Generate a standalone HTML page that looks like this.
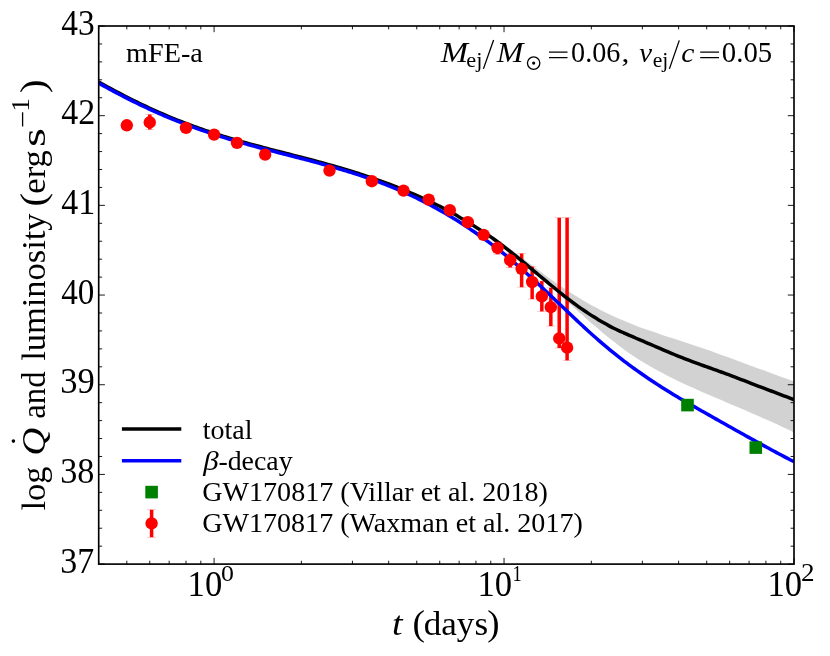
<!DOCTYPE html>
<html><head><meta charset="utf-8"><title>plot</title>
<style>html,body{margin:0;padding:0;background:#fff}svg{display:block;will-change:transform}text{font-family:"Liberation Serif",serif;fill:#000}</style></head><body>
<svg width="830" height="656" viewBox="0 0 830 656">
<rect width="830" height="656" fill="#fff"/>
<defs><clipPath id="ax"><rect x="98.70" y="26.00" width="695.30" height="538.10"/></clipPath></defs>
<g clip-path="url(#ax)">
<path d="M480.00,227.67 C481.00,228.34 484.00,230.31 486.00,231.66 C488.00,233.02 490.00,234.40 492.00,235.80 C494.00,237.19 496.00,238.61 498.00,240.05 C500.00,241.48 502.00,242.93 504.00,244.39 C506.00,245.86 508.00,247.33 510.00,248.82 C512.00,250.30 514.00,251.80 516.00,253.29 C518.00,254.79 520.00,256.29 522.00,257.80 C524.00,259.30 526.00,260.81 528.00,262.31 C530.00,263.81 532.00,265.32 534.00,266.81 C536.00,268.30 538.00,269.80 540.00,271.27 C542.00,272.75 544.00,274.23 546.00,275.68 C548.00,277.14 550.00,278.58 552.00,280.01 C554.00,281.43 556.00,282.85 558.00,284.23 C560.00,285.62 562.00,286.99 564.00,288.33 C566.00,289.68 568.00,291.00 570.00,292.29 C572.00,293.58 574.00,294.85 576.00,296.08 C578.00,297.32 580.00,298.53 582.00,299.71 C584.00,300.89 586.00,302.05 588.00,303.18 C590.00,304.31 592.00,305.41 594.00,306.49 C596.00,307.57 598.00,308.62 600.00,309.65 C602.00,310.68 604.00,311.68 606.00,312.66 C608.00,313.64 610.00,314.60 612.00,315.53 C614.00,316.46 616.00,317.37 618.00,318.26 C620.00,319.14 622.00,320.00 624.00,320.85 C626.00,321.69 628.00,322.50 630.00,323.30 C632.00,324.11 634.00,324.88 636.00,325.65 C638.00,326.41 640.00,327.15 642.00,327.89 C644.00,328.62 646.00,329.33 648.00,330.04 C650.00,330.74 652.00,331.43 654.00,332.12 C656.00,332.80 658.00,333.48 660.00,334.14 C662.00,334.81 664.00,335.47 666.00,336.13 C668.00,336.78 670.00,337.43 672.00,338.08 C674.00,338.74 676.00,339.38 678.00,340.03 C680.00,340.68 682.00,341.33 684.00,341.99 C686.00,342.64 688.00,343.29 690.00,343.96 C692.00,344.62 694.00,345.29 696.00,345.97 C698.00,346.64 700.00,347.33 702.00,348.02 C704.00,348.71 706.00,349.41 708.00,350.11 C710.00,350.81 712.00,351.52 714.00,352.23 C716.00,352.94 718.00,353.66 720.00,354.38 C722.00,355.10 724.00,355.83 726.00,356.55 C728.00,357.28 730.00,358.01 732.00,358.75 C734.00,359.48 736.00,360.22 738.00,360.96 C740.00,361.70 742.00,362.44 744.00,363.18 C746.00,363.92 748.00,364.66 750.00,365.40 C752.00,366.14 754.00,366.89 756.00,367.63 C758.00,368.37 760.00,369.11 762.00,369.85 C764.00,370.59 766.00,371.33 768.00,372.06 C770.00,372.80 772.00,373.53 774.00,374.26 C776.00,374.99 778.00,375.72 780.00,376.44 C782.00,377.17 784.00,377.89 786.00,378.60 C788.00,379.32 790.67,380.27 792.00,380.74 C793.33,381.21 793.67,381.33 794.00,381.44 L794.00,432.34 C793.67,432.18 793.33,432.02 792.00,431.38 C790.67,430.75 788.00,429.47 786.00,428.53 C784.00,427.59 782.00,426.66 780.00,425.74 C778.00,424.81 776.00,423.90 774.00,422.99 C772.00,422.08 770.00,421.19 768.00,420.29 C766.00,419.40 764.00,418.51 762.00,417.63 C760.00,416.75 758.00,415.88 756.00,415.01 C754.00,414.13 752.00,413.27 750.00,412.41 C748.00,411.54 746.00,410.68 744.00,409.83 C742.00,408.97 740.00,408.12 738.00,407.26 C736.00,406.41 734.00,405.56 732.00,404.71 C730.00,403.86 728.00,403.01 726.00,402.16 C724.00,401.31 722.00,400.46 720.00,399.61 C718.00,398.76 716.00,397.91 714.00,397.05 C712.00,396.20 710.00,395.34 708.00,394.48 C706.00,393.62 704.00,392.76 702.00,391.89 C700.00,391.02 698.00,390.14 696.00,389.26 C694.00,388.37 692.00,387.48 690.00,386.57 C688.00,385.67 686.00,384.75 684.00,383.82 C682.00,382.89 680.00,381.95 678.00,380.99 C676.00,380.03 674.00,379.06 672.00,378.07 C670.00,377.07 668.00,376.06 666.00,375.03 C664.00,374.00 662.00,372.94 660.00,371.87 C658.00,370.79 656.00,369.69 654.00,368.56 C652.00,367.44 650.00,366.29 648.00,365.10 C646.00,363.92 644.00,362.72 642.00,361.48 C640.00,360.23 638.00,358.97 636.00,357.66 C634.00,356.36 632.00,355.02 630.00,353.65 C628.00,352.27 626.00,350.87 624.00,349.42 C622.00,347.97 620.00,346.49 618.00,344.97 C616.00,343.45 614.00,341.90 612.00,340.32 C610.00,338.73 608.00,337.12 606.00,335.48 C604.00,333.84 602.00,332.18 600.00,330.49 C598.00,328.81 596.00,327.10 594.00,325.37 C592.00,323.65 590.00,321.90 588.00,320.14 C586.00,318.39 584.00,316.61 582.00,314.83 C580.00,313.05 578.00,311.26 576.00,309.46 C574.00,307.67 572.00,305.86 570.00,304.06 C568.00,302.25 566.00,300.44 564.00,298.64 C562.00,296.83 560.00,295.03 558.00,293.23 C556.00,291.43 554.00,289.63 552.00,287.84 C550.00,286.04 548.00,284.26 546.00,282.48 C544.00,280.71 542.00,278.94 540.00,277.18 C538.00,275.42 536.00,273.68 534.00,271.95 C532.00,270.22 530.00,268.50 528.00,266.80 C526.00,265.10 524.00,263.42 522.00,261.75 C520.00,260.09 518.00,258.44 516.00,256.82 C514.00,255.20 512.00,253.60 510.00,252.02 C508.00,250.45 506.00,248.90 504.00,247.37 C502.00,245.85 500.00,244.35 498.00,242.89 C496.00,241.42 494.00,239.99 492.00,238.58 C490.00,237.18 488.00,235.81 486.00,234.47 C484.00,233.14 481.00,231.23 480.00,230.58 Z" fill="#d2d2d2"/>
<line x1="149.76" x2="149.76" y1="114.40" y2="129.40" stroke="#f00" stroke-width="3.50"/>
<line x1="497.58" x2="497.58" y1="241.40" y2="254.30" stroke="#f00" stroke-width="3.50"/>
<line x1="510.19" x2="510.19" y1="253.20" y2="267.50" stroke="#f00" stroke-width="3.50"/>
<line x1="521.64" x2="521.64" y1="253.60" y2="287.20" stroke="#f00" stroke-width="3.50"/>
<line x1="532.14" x2="532.14" y1="266.70" y2="299.10" stroke="#f00" stroke-width="3.50"/>
<line x1="541.83" x2="541.83" y1="281.10" y2="311.40" stroke="#f00" stroke-width="3.50"/>
<line x1="550.83" x2="550.83" y1="287.80" y2="326.10" stroke="#f00" stroke-width="3.50"/>
<line x1="559.23" x2="559.23" y1="217.70" y2="348.00" stroke="#f00" stroke-width="3.50"/>
<line x1="567.10" x2="567.10" y1="217.70" y2="360.40" stroke="#f00" stroke-width="3.50"/>
<path d="M98.70,82.00 C99.53,82.47 102.03,83.87 103.70,84.79 C105.37,85.71 107.03,86.63 108.70,87.54 C110.37,88.45 112.03,89.35 113.70,90.24 C115.37,91.13 117.03,92.02 118.70,92.90 C120.37,93.77 122.03,94.64 123.70,95.50 C125.37,96.36 127.03,97.22 128.70,98.06 C130.37,98.90 132.03,99.74 133.70,100.56 C135.37,101.39 137.03,102.20 138.70,103.01 C140.37,103.82 142.03,104.62 143.70,105.41 C145.37,106.19 147.03,106.97 148.70,107.74 C150.37,108.51 152.03,109.28 153.70,110.03 C155.37,110.78 157.03,111.52 158.70,112.25 C160.37,112.99 162.03,113.71 163.70,114.42 C165.37,115.14 167.03,115.84 168.70,116.54 C170.37,117.23 172.03,117.92 173.70,118.59 C175.37,119.27 177.03,119.94 178.70,120.60 C180.37,121.26 182.03,121.90 183.70,122.55 C185.37,123.19 187.03,123.82 188.70,124.44 C190.37,125.06 192.03,125.68 193.70,126.28 C195.37,126.89 197.03,127.49 198.70,128.08 C200.37,128.66 202.03,129.24 203.70,129.82 C205.37,130.39 207.03,130.95 208.70,131.51 C210.37,132.07 212.03,132.62 213.70,133.16 C215.37,133.70 217.03,134.23 218.70,134.76 C220.37,135.29 222.03,135.80 223.70,136.32 C225.37,136.83 227.03,137.34 228.70,137.84 C230.37,138.34 232.03,138.83 233.70,139.32 C235.37,139.81 237.03,140.29 238.70,140.77 C240.37,141.25 242.03,141.72 243.70,142.19 C245.37,142.66 247.03,143.12 248.70,143.58 C250.37,144.04 252.03,144.50 253.70,144.95 C255.37,145.40 257.03,145.85 258.70,146.29 C260.37,146.74 262.03,147.18 263.70,147.62 C265.37,148.06 267.03,148.49 268.70,148.93 C270.37,149.36 272.03,149.79 273.70,150.22 C275.37,150.65 277.03,151.08 278.70,151.51 C280.37,151.94 282.03,152.37 283.70,152.79 C285.37,153.22 287.03,153.64 288.70,154.07 C290.37,154.50 292.03,154.92 293.70,155.35 C295.37,155.77 297.03,156.20 298.70,156.63 C300.37,157.06 302.03,157.49 303.70,157.92 C305.37,158.35 307.03,158.78 308.70,159.22 C310.37,159.65 312.03,160.09 313.70,160.53 C315.37,160.97 317.03,161.42 318.70,161.86 C320.37,162.31 322.03,162.76 323.70,163.21 C325.37,163.67 327.03,164.13 328.70,164.59 C330.37,165.05 332.03,165.52 333.70,165.99 C335.37,166.47 337.03,166.94 338.70,167.43 C340.37,167.91 342.03,168.40 343.70,168.90 C345.37,169.39 347.03,169.89 348.70,170.40 C350.37,170.90 352.03,171.41 353.70,171.93 C355.37,172.45 357.03,172.98 358.70,173.51 C360.37,174.04 362.03,174.58 363.70,175.13 C365.37,175.68 367.03,176.24 368.70,176.80 C370.37,177.37 372.03,177.94 373.70,178.52 C375.37,179.10 377.03,179.69 378.70,180.29 C380.37,180.89 382.03,181.50 383.70,182.12 C385.37,182.74 387.03,183.37 388.70,184.00 C390.37,184.63 392.03,185.27 393.70,185.91 C395.37,186.56 397.03,187.21 398.70,187.87 C400.37,188.53 402.03,189.20 403.70,189.88 C405.37,190.57 407.03,191.26 408.70,191.96 C410.37,192.67 412.03,193.39 413.70,194.11 C415.37,194.83 417.03,195.56 418.70,196.31 C420.37,197.05 422.03,197.80 423.70,198.57 C425.37,199.33 427.03,200.11 428.70,200.90 C430.37,201.69 432.03,202.49 433.70,203.31 C435.37,204.12 437.03,204.95 438.70,205.80 C440.37,206.65 442.03,207.51 443.70,208.38 C445.37,209.26 447.03,210.14 448.70,211.05 C450.37,211.95 452.03,212.87 453.70,213.81 C455.37,214.74 457.03,215.69 458.70,216.66 C460.37,217.62 462.03,218.60 463.70,219.60 C465.37,220.59 467.03,221.61 468.70,222.63 C470.37,223.66 472.03,224.70 473.70,225.75 C475.37,226.80 477.03,227.87 478.70,228.94 C480.37,230.01 482.03,231.09 483.70,232.19 C485.37,233.29 487.03,234.40 488.70,235.54 C490.37,236.68 492.03,237.84 493.70,239.02 C495.37,240.21 497.03,241.43 498.70,242.67 C500.37,243.91 502.03,245.18 503.70,246.47 C505.37,247.75 507.03,249.06 508.70,250.38 C510.37,251.69 512.03,253.01 513.70,254.35 C515.37,255.68 517.03,257.01 518.70,258.36 C520.37,259.71 522.03,261.07 523.70,262.45 C525.37,263.82 527.03,265.21 528.70,266.60 C530.37,268.00 532.03,269.41 533.70,270.81 C535.37,272.21 537.03,273.63 538.70,275.03 C540.37,276.43 542.03,277.83 543.70,279.21 C545.37,280.60 547.03,281.97 548.70,283.34 C550.37,284.71 552.03,286.07 553.70,287.43 C555.37,288.79 557.03,290.16 558.70,291.50 C560.37,292.85 562.03,294.19 563.70,295.52 C565.37,296.84 567.03,298.15 568.70,299.44 C570.37,300.72 572.03,301.99 573.70,303.21 C575.37,304.44 577.03,305.63 578.70,306.81 C580.37,307.99 582.03,309.15 583.70,310.29 C585.37,311.42 587.03,312.53 588.70,313.62 C590.37,314.71 592.03,315.78 593.70,316.83 C595.37,317.88 597.03,318.90 598.70,319.90 C600.37,320.90 602.03,321.88 603.70,322.83 C605.37,323.78 607.03,324.72 608.70,325.63 C610.37,326.53 612.03,327.41 613.70,328.24 C615.37,329.07 617.03,329.84 618.70,330.60 C620.37,331.37 622.03,332.09 623.70,332.83 C625.37,333.57 627.03,334.32 628.70,335.05 C630.37,335.79 632.03,336.51 633.70,337.23 C635.37,337.95 637.03,338.66 638.70,339.37 C640.37,340.07 642.03,340.77 643.70,341.47 C645.37,342.18 647.03,342.90 648.70,343.61 C650.37,344.32 652.03,345.03 653.70,345.74 C655.37,346.45 657.03,347.16 658.70,347.87 C660.37,348.58 662.03,349.30 663.70,350.02 C665.37,350.73 667.03,351.46 668.70,352.16 C670.37,352.87 672.03,353.56 673.70,354.25 C675.37,354.93 677.03,355.61 678.70,356.28 C680.37,356.95 682.03,357.62 683.70,358.27 C685.37,358.93 687.03,359.58 688.70,360.22 C690.37,360.85 692.03,361.49 693.70,362.11 C695.37,362.73 697.03,363.33 698.70,363.94 C700.37,364.54 702.03,365.13 703.70,365.73 C705.37,366.32 707.03,366.91 708.70,367.50 C710.37,368.10 712.03,368.69 713.70,369.29 C715.37,369.89 717.03,370.50 718.70,371.10 C720.37,371.70 722.03,372.30 723.70,372.90 C725.37,373.51 727.03,374.12 728.70,374.73 C730.37,375.35 732.03,375.98 733.70,376.62 C735.37,377.25 737.03,377.90 738.70,378.54 C740.37,379.19 742.03,379.84 743.70,380.49 C745.37,381.14 747.03,381.79 748.70,382.44 C750.37,383.09 752.03,383.73 753.70,384.37 C755.37,385.01 757.03,385.65 758.70,386.28 C760.37,386.91 762.03,387.54 763.70,388.16 C765.37,388.79 767.03,389.42 768.70,390.05 C770.37,390.68 772.03,391.31 773.70,391.94 C775.37,392.58 777.03,393.22 778.70,393.86 C780.37,394.49 782.03,395.13 783.70,395.77 C785.37,396.41 787.03,397.05 788.70,397.69 C790.37,398.33 792.82,399.27 793.70,399.61 C794.58,399.95 793.95,399.71 794.00,399.73" fill="none" stroke="#000" stroke-width="3.50"/>
<path d="M98.70,83.10 C99.53,83.57 102.03,84.97 103.70,85.89 C105.37,86.81 107.03,87.73 108.70,88.64 C110.37,89.55 112.03,90.45 113.70,91.34 C115.37,92.23 117.03,93.12 118.70,94.00 C120.37,94.87 122.03,95.74 123.70,96.60 C125.37,97.46 127.03,98.32 128.70,99.16 C130.37,100.00 132.03,100.84 133.70,101.66 C135.37,102.49 137.03,103.30 138.70,104.11 C140.37,104.92 142.03,105.72 143.70,106.51 C145.37,107.29 147.03,108.07 148.70,108.84 C150.37,109.61 152.03,110.38 153.70,111.13 C155.37,111.88 157.03,112.62 158.70,113.35 C160.37,114.09 162.03,114.81 163.70,115.52 C165.37,116.24 167.03,116.94 168.70,117.64 C170.37,118.33 172.03,119.02 173.70,119.69 C175.37,120.37 177.03,121.04 178.70,121.70 C180.37,122.36 182.03,123.00 183.70,123.65 C185.37,124.29 187.03,124.92 188.70,125.54 C190.37,126.16 192.03,126.78 193.70,127.38 C195.37,127.99 197.03,128.59 198.70,129.18 C200.37,129.76 202.03,130.34 203.70,130.92 C205.37,131.49 207.03,132.06 208.70,132.61 C210.37,133.17 212.03,133.72 213.70,134.26 C215.37,134.81 217.03,135.34 218.70,135.87 C220.37,136.40 222.03,136.92 223.70,137.44 C225.37,137.95 227.03,138.46 228.70,138.96 C230.37,139.46 232.03,139.96 233.70,140.45 C235.37,140.94 237.03,141.43 238.70,141.91 C240.37,142.39 242.03,142.86 243.70,143.33 C245.37,143.80 247.03,144.27 248.70,144.73 C250.37,145.19 252.03,145.65 253.70,146.10 C255.37,146.55 257.03,147.00 258.70,147.45 C260.37,147.90 262.03,148.34 263.70,148.78 C265.37,149.22 267.03,149.66 268.70,150.09 C270.37,150.53 272.03,150.96 273.70,151.40 C275.37,151.83 277.03,152.26 278.70,152.69 C280.37,153.12 282.03,153.54 283.70,153.97 C285.37,154.40 287.03,154.83 288.70,155.26 C290.37,155.68 292.03,156.11 293.70,156.54 C295.37,156.97 297.03,157.40 298.70,157.83 C300.37,158.26 302.03,158.69 303.70,159.12 C305.37,159.56 307.03,159.99 308.70,160.43 C310.37,160.87 312.03,161.31 313.70,161.76 C315.37,162.20 317.03,162.65 318.70,163.10 C320.37,163.55 322.03,164.00 323.70,164.46 C325.37,164.92 327.03,165.38 328.70,165.85 C330.37,166.32 332.03,166.79 333.70,167.27 C335.37,167.75 337.03,168.23 338.70,168.72 C340.37,169.21 342.03,169.71 343.70,170.21 C345.37,170.72 347.03,171.22 348.70,171.74 C350.37,172.26 352.03,172.78 353.70,173.31 C355.37,173.85 357.03,174.39 358.70,174.93 C360.37,175.48 362.03,176.04 363.70,176.60 C365.37,177.17 367.03,177.74 368.70,178.33 C370.37,178.91 372.03,179.50 373.70,180.10 C375.37,180.71 377.03,181.32 378.70,181.94 C380.37,182.57 382.03,183.20 383.70,183.85 C385.37,184.49 387.03,185.15 388.70,185.81 C390.37,186.48 392.03,187.16 393.70,187.85 C395.37,188.54 397.03,189.24 398.70,189.96 C400.37,190.67 402.03,191.40 403.70,192.14 C405.37,192.88 407.03,193.63 408.70,194.39 C410.37,195.16 412.03,195.94 413.70,196.73 C415.37,197.52 417.03,198.33 418.70,199.15 C420.37,199.97 422.03,200.80 423.70,201.65 C425.37,202.49 427.03,203.35 428.70,204.23 C430.37,205.10 432.03,205.99 433.70,206.90 C435.37,207.80 437.03,208.72 438.70,209.66 C440.37,210.59 442.03,211.54 443.70,212.50 C445.37,213.47 447.03,214.45 448.70,215.44 C450.37,216.44 452.03,217.45 453.70,218.47 C455.37,219.50 457.03,220.54 458.70,221.59 C460.37,222.65 462.03,223.72 463.70,224.81 C465.37,225.90 467.03,227.00 468.70,228.12 C470.37,229.23 472.03,230.37 473.70,231.51 C475.37,232.65 477.03,233.80 478.70,234.96 C480.37,236.12 482.03,237.29 483.70,238.48 C485.37,239.67 487.03,240.87 488.70,242.10 C490.37,243.32 492.03,244.56 493.70,245.82 C495.37,247.09 497.03,248.37 498.70,249.68 C500.37,250.99 502.03,252.33 503.70,253.68 C505.37,255.04 507.03,256.42 508.70,257.81 C510.37,259.21 512.03,260.62 513.70,262.05 C515.37,263.47 517.03,264.92 518.70,266.37 C520.37,267.83 522.03,269.29 523.70,270.78 C525.37,272.26 527.03,273.75 528.70,275.25 C530.37,276.76 532.03,278.28 533.70,279.80 C535.37,281.33 537.03,282.87 538.70,284.41 C540.37,285.96 542.03,287.52 543.70,289.08 C545.37,290.64 547.03,292.21 548.70,293.79 C550.37,295.36 552.03,296.95 553.70,298.53 C555.37,300.11 557.03,301.70 558.70,303.29 C560.37,304.88 562.03,306.47 563.70,308.05 C565.37,309.64 567.03,311.23 568.70,312.81 C570.37,314.39 572.03,315.97 573.70,317.54 C575.37,319.11 577.03,320.67 578.70,322.23 C580.37,323.78 582.03,325.33 583.70,326.87 C585.37,328.41 587.03,329.94 588.70,331.45 C590.37,332.96 592.03,334.46 593.70,335.95 C595.37,337.43 597.03,338.91 598.70,340.36 C600.37,341.81 602.03,343.25 603.70,344.66 C605.37,346.08 607.03,347.47 608.70,348.85 C610.37,350.23 612.03,351.59 613.70,352.93 C615.37,354.27 617.03,355.60 618.70,356.90 C620.37,358.21 622.03,359.50 623.70,360.77 C625.37,362.05 627.03,363.30 628.70,364.55 C630.37,365.79 632.03,367.01 633.70,368.22 C635.37,369.43 637.03,370.62 638.70,371.80 C640.37,372.98 642.03,374.15 643.70,375.30 C645.37,376.45 647.03,377.59 648.70,378.71 C650.37,379.83 652.03,380.94 653.70,382.04 C655.37,383.14 657.03,384.22 658.70,385.29 C660.37,386.37 662.03,387.42 663.70,388.47 C665.37,389.52 667.03,390.56 668.70,391.59 C670.37,392.61 672.03,393.63 673.70,394.63 C675.37,395.64 677.03,396.64 678.70,397.63 C680.37,398.62 682.03,399.60 683.70,400.58 C685.37,401.56 687.03,402.52 688.70,403.49 C690.37,404.45 692.03,405.41 693.70,406.37 C695.37,407.32 697.03,408.27 698.70,409.22 C700.37,410.17 702.03,411.11 703.70,412.05 C705.37,413.00 707.03,413.94 708.70,414.88 C710.37,415.82 712.03,416.77 713.70,417.71 C715.37,418.65 717.03,419.59 718.70,420.53 C720.37,421.47 722.03,422.41 723.70,423.35 C725.37,424.29 727.03,425.23 728.70,426.17 C730.37,427.11 732.03,428.04 733.70,428.98 C735.37,429.92 737.03,430.85 738.70,431.78 C740.37,432.72 742.03,433.65 743.70,434.58 C745.37,435.50 747.03,436.43 748.70,437.36 C750.37,438.28 752.03,439.20 753.70,440.12 C755.37,441.04 757.03,441.96 758.70,442.88 C760.37,443.79 762.03,444.70 763.70,445.61 C765.37,446.52 767.03,447.43 768.70,448.33 C770.37,449.23 772.03,450.13 773.70,451.03 C775.37,451.92 777.03,452.81 778.70,453.70 C780.37,454.59 782.03,455.47 783.70,456.35 C785.37,457.23 787.03,458.11 788.70,458.98 C790.37,459.85 792.82,461.11 793.70,461.57 C794.58,462.03 793.95,461.70 794.00,461.73" fill="none" stroke="#00f" stroke-width="3.50"/>
<rect x="681.20" y="398.80" width="12.60" height="12.60" fill="#008000"/>
<rect x="749.50" y="441.30" width="12.60" height="12.60" fill="#008000"/>
<circle cx="126.80" cy="125.30" r="6.20" fill="#f00"/>
<circle cx="149.76" cy="122.30" r="6.20" fill="#f00"/>
<circle cx="185.99" cy="127.90" r="6.20" fill="#f00"/>
<circle cx="214.09" cy="134.60" r="6.20" fill="#f00"/>
<circle cx="237.04" cy="142.90" r="6.20" fill="#f00"/>
<circle cx="265.14" cy="154.60" r="6.20" fill="#f00"/>
<circle cx="329.47" cy="170.60" r="6.20" fill="#f00"/>
<circle cx="371.84" cy="181.20" r="6.20" fill="#f00"/>
<circle cx="403.49" cy="190.60" r="6.20" fill="#f00"/>
<circle cx="428.76" cy="199.60" r="6.20" fill="#f00"/>
<circle cx="449.80" cy="210.20" r="6.20" fill="#f00"/>
<circle cx="467.82" cy="222.20" r="6.20" fill="#f00"/>
<circle cx="483.58" cy="234.90" r="6.20" fill="#f00"/>
<circle cx="497.58" cy="247.90" r="6.20" fill="#f00"/>
<circle cx="510.19" cy="260.20" r="6.20" fill="#f00"/>
<circle cx="521.64" cy="268.80" r="6.20" fill="#f00"/>
<circle cx="532.14" cy="282.00" r="6.20" fill="#f00"/>
<circle cx="541.83" cy="296.40" r="6.20" fill="#f00"/>
<circle cx="550.83" cy="307.20" r="6.20" fill="#f00"/>
<circle cx="559.23" cy="338.40" r="6.20" fill="#f00"/>
<circle cx="567.10" cy="347.70" r="6.20" fill="#f00"/>
<line x1="145.46" x2="154.06" y1="114.40" y2="114.40" stroke="#f00" stroke-width="0.6" opacity="0.4"/>
<line x1="145.46" x2="154.06" y1="129.40" y2="129.40" stroke="#f00" stroke-width="0.6" opacity="0.4"/>
<line x1="493.28" x2="501.88" y1="241.40" y2="241.40" stroke="#f00" stroke-width="0.6" opacity="0.4"/>
<line x1="493.28" x2="501.88" y1="254.30" y2="254.30" stroke="#f00" stroke-width="0.6" opacity="0.4"/>
<line x1="505.89" x2="514.49" y1="253.20" y2="253.20" stroke="#f00" stroke-width="0.6" opacity="0.4"/>
<line x1="505.89" x2="514.49" y1="267.50" y2="267.50" stroke="#f00" stroke-width="0.6" opacity="0.4"/>
<line x1="517.34" x2="525.94" y1="253.60" y2="253.60" stroke="#f00" stroke-width="0.6" opacity="0.4"/>
<line x1="517.34" x2="525.94" y1="287.20" y2="287.20" stroke="#f00" stroke-width="0.6" opacity="0.4"/>
<line x1="527.84" x2="536.44" y1="266.70" y2="266.70" stroke="#f00" stroke-width="0.6" opacity="0.4"/>
<line x1="527.84" x2="536.44" y1="299.10" y2="299.10" stroke="#f00" stroke-width="0.6" opacity="0.4"/>
<line x1="537.53" x2="546.13" y1="281.10" y2="281.10" stroke="#f00" stroke-width="0.6" opacity="0.4"/>
<line x1="537.53" x2="546.13" y1="311.40" y2="311.40" stroke="#f00" stroke-width="0.6" opacity="0.4"/>
<line x1="546.53" x2="555.13" y1="287.80" y2="287.80" stroke="#f00" stroke-width="0.6" opacity="0.4"/>
<line x1="546.53" x2="555.13" y1="326.10" y2="326.10" stroke="#f00" stroke-width="0.6" opacity="0.4"/>
<line x1="554.93" x2="563.53" y1="217.70" y2="217.70" stroke="#f00" stroke-width="0.6" opacity="0.4"/>
<line x1="554.93" x2="563.53" y1="348.00" y2="348.00" stroke="#f00" stroke-width="0.6" opacity="0.4"/>
<line x1="562.80" x2="571.40" y1="217.70" y2="217.70" stroke="#f00" stroke-width="0.6" opacity="0.4"/>
<line x1="562.80" x2="571.40" y1="360.40" y2="360.40" stroke="#f00" stroke-width="0.6" opacity="0.4"/>
</g>
<path d="M98.70,564.10 h6.20 M794.00,564.10 h-6.20 M98.70,546.16 h3.40 M794.00,546.16 h-3.40 M98.70,528.23 h3.40 M794.00,528.23 h-3.40 M98.70,510.29 h3.40 M794.00,510.29 h-3.40 M98.70,492.35 h3.40 M794.00,492.35 h-3.40 M98.70,474.42 h6.20 M794.00,474.42 h-6.20 M98.70,456.48 h3.40 M794.00,456.48 h-3.40 M98.70,438.54 h3.40 M794.00,438.54 h-3.40 M98.70,420.61 h3.40 M794.00,420.61 h-3.40 M98.70,402.67 h3.40 M794.00,402.67 h-3.40 M98.70,384.73 h6.20 M794.00,384.73 h-6.20 M98.70,366.80 h3.40 M794.00,366.80 h-3.40 M98.70,348.86 h3.40 M794.00,348.86 h-3.40 M98.70,330.92 h3.40 M794.00,330.92 h-3.40 M98.70,312.99 h3.40 M794.00,312.99 h-3.40 M98.70,295.05 h6.20 M794.00,295.05 h-6.20 M98.70,277.11 h3.40 M794.00,277.11 h-3.40 M98.70,259.18 h3.40 M794.00,259.18 h-3.40 M98.70,241.24 h3.40 M794.00,241.24 h-3.40 M98.70,223.30 h3.40 M794.00,223.30 h-3.40 M98.70,205.37 h6.20 M794.00,205.37 h-6.20 M98.70,187.43 h3.40 M794.00,187.43 h-3.40 M98.70,169.49 h3.40 M794.00,169.49 h-3.40 M98.70,151.56 h3.40 M794.00,151.56 h-3.40 M98.70,133.62 h3.40 M794.00,133.62 h-3.40 M98.70,115.68 h6.20 M794.00,115.68 h-6.20 M98.70,97.75 h3.40 M794.00,97.75 h-3.40 M98.70,79.81 h3.40 M794.00,79.81 h-3.40 M98.70,61.87 h3.40 M794.00,61.87 h-3.40 M98.70,43.94 h3.40 M794.00,43.94 h-3.40 M98.70,26.00 h6.20 M794.00,26.00 h-6.20 M98.70,564.10 v-3.40 M98.70,26.00 v3.40 M126.80,564.10 v-3.40 M126.80,26.00 v3.40 M149.76,564.10 v-3.40 M149.76,26.00 v3.40 M169.17,564.10 v-3.40 M169.17,26.00 v3.40 M185.99,564.10 v-3.40 M185.99,26.00 v3.40 M200.82,564.10 v-3.40 M200.82,26.00 v3.40 M214.09,564.10 v-6.20 M214.09,26.00 v6.20 M301.37,564.10 v-3.40 M301.37,26.00 v3.40 M352.43,564.10 v-3.40 M352.43,26.00 v3.40 M388.66,564.10 v-3.40 M388.66,26.00 v3.40 M416.76,564.10 v-3.40 M416.76,26.00 v3.40 M439.72,564.10 v-3.40 M439.72,26.00 v3.40 M459.13,564.10 v-3.40 M459.13,26.00 v3.40 M475.94,564.10 v-3.40 M475.94,26.00 v3.40 M490.78,564.10 v-3.40 M490.78,26.00 v3.40 M504.04,564.10 v-6.20 M504.04,26.00 v6.20 M591.33,564.10 v-3.40 M591.33,26.00 v3.40 M642.39,564.10 v-3.40 M642.39,26.00 v3.40 M678.61,564.10 v-3.40 M678.61,26.00 v3.40 M706.71,564.10 v-3.40 M706.71,26.00 v3.40 M729.67,564.10 v-3.40 M729.67,26.00 v3.40 M749.09,564.10 v-3.40 M749.09,26.00 v3.40 M765.90,564.10 v-3.40 M765.90,26.00 v3.40 M780.73,564.10 v-3.40 M780.73,26.00 v3.40 M794.00,564.10 v-6.20 M794.00,26.00 v6.20" stroke="#000" stroke-width="0.90" fill="none"/>
<rect x="98.70" y="26.00" width="695.30" height="538.10" fill="none" stroke="#000" stroke-width="1.65"/>
<text transform="translate(60.19,572.80) scale(0.9781,1.0348)" font-size="34.7">37</text>
<text transform="translate(60.17,483.12) scale(0.9858,1.0348)" font-size="34.7">38</text>
<text transform="translate(60.16,393.43) scale(0.9937,1.0348)" font-size="34.7">39</text>
<text transform="translate(61.18,303.75) scale(0.9557,1.0348)" font-size="34.7">40</text>
<text transform="translate(61.17,214.07) scale(0.9781,1.0462)" font-size="34.7">41</text>
<text transform="translate(61.17,124.38) scale(0.9781,1.0348)" font-size="34.7">42</text>
<text transform="translate(61.18,34.70) scale(0.9631,1.0348)" font-size="34.7">43</text>
<text transform="translate(187.60,596.10) scale(0.9967,1.0348)" font-size="34.7">10</text>
<text transform="translate(221.02,581.20) scale(1.0634,0.9785)" font-size="24.3">0</text>
<text transform="translate(477.55,596.10) scale(0.9967,1.0348)" font-size="34.7">10</text>
<text transform="translate(512.42,580.80) scale(0.7647,0.9688)" font-size="24.3">1</text>
<text transform="translate(767.51,596.10) scale(0.9967,1.0348)" font-size="34.7">10</text>
<text transform="translate(800.88,581.20) scale(1.1179,0.9938)" font-size="24.3">2</text>
<text transform="translate(391.95,634.80) scale(1.0971,1.0000)" font-size="34.7" font-style="italic">t</text>
<text transform="translate(412.58,634.80) scale(1.0778,1.0250)" font-size="34.7">(</text>
<text transform="translate(423.74,634.80) scale(1.0115,1.0000)" font-size="34.7">days</text>
<text transform="translate(487.33,634.80) scale(1.0667,1.0250)" font-size="34.7">)</text>
<text transform="translate(44.50,510.54) rotate(-90) scale(0.9930,1.0000)" font-size="34.7">log</text>
<text transform="translate(44.50,455.83) rotate(-90) scale(1.1156,1.0000)" font-size="34.7" font-style="italic">Q</text>
<text transform="translate(44.50,418.78) rotate(-90) scale(0.9443,1.0000)" font-size="34.7">and</text>
<text transform="translate(44.50,360.84) rotate(-90) scale(0.9932,1.0000)" font-size="34.7">luminosity</text>
<text transform="translate(44.50,206.55) rotate(-90) scale(1.1667,1.0167)" font-size="34.7">(</text>
<text transform="translate(44.50,193.65) rotate(-90) scale(0.9964,1.0000)" font-size="34.7">erg</text>
<text transform="translate(44.50,147.11) rotate(-90) scale(1.4047,1.0000)" font-size="34.7">s</text>
<text transform="translate(29.40,111.71) rotate(-90) scale(1.1176,1.0000)" font-size="24.3">1</text>
<text transform="translate(44.50,93.07) rotate(-90) scale(1.1667,1.0167)" font-size="34.7">)</text>
<text transform="translate(126.09,61.80) scale(1.0154,1.0000)" font-size="27.8">mFE-a</text>
<text transform="translate(440.79,61.60) scale(1.1796,1.0521)" font-size="27.8" font-style="italic">M</text>
<text transform="translate(466.26,67.40) scale(1.1167,1.0000)" font-size="20">ej</text>
<text transform="translate(496.69,61.60) scale(1.1510,1.0521)" font-size="27.8" font-style="italic">M</text>
<text transform="translate(571.09,61.60) scale(1.0139,1.0595)" font-size="27.8">0.06</text>
<text transform="translate(621.57,62.45) scale(1.1294,1.0000)" font-size="27.8">,</text>
<text transform="translate(639.28,61.60) scale(1.0383,1.0000)" font-size="27.8" font-style="italic">v</text>
<text transform="translate(652.69,67.40) scale(1.0833,1.0000)" font-size="20">ej</text>
<text transform="translate(681.20,61.60) scale(1.0667,1.0000)" font-size="27.8" font-style="italic">c</text>
<text transform="translate(721.87,61.60) scale(1.0344,1.0595)" font-size="27.8">0.05</text>
<text transform="translate(202.85,439.10) scale(1.0062,1.0000)" font-size="27.8">total</text>
<text transform="translate(203.16,469.80) scale(1.1158,1.0000)" font-size="27.8" font-style="italic">β</text>
<text transform="translate(218.40,469.80) scale(1.0027,1.0000)" font-size="27.8">-decay</text>
<text transform="translate(202.14,501.40) scale(1.0116,1.0000)" font-size="27.8">GW170817 (Villar et al. 2018)</text>
<text transform="translate(202.14,532.20) scale(1.0106,1.0000)" font-size="27.8">GW170817 (Waxman et al. 2017)</text>
<path d="M483.4,68.9 L493.6,40.0 M669.4,68.9 L679.3,40.4" stroke="#000" stroke-width="1.3" fill="none"/>
<path d="M549.0,52.2 H567.5 M549.0,57.7 H567.5 M700.2,52.2 H719.0 M700.2,57.7 H719.0" stroke="#000" stroke-width="1.2" fill="none"/>
<circle cx="533.65" cy="63.1" r="6.2" stroke="#000" stroke-width="1.3" fill="none"/><circle cx="533.65" cy="63.1" r="1.6" fill="#000"/>
<circle cx="13.4" cy="441.1" r="1.8" fill="#000"/>
<path d="M22.6,126.5 V112.3" stroke="#000" stroke-width="1.3" fill="none"/>
<line x1="121.9" x2="181.3" y1="429.0" y2="429.0" stroke="#000" stroke-width="3.50"/>
<line x1="121.9" x2="181.3" y1="460.8" y2="460.8" stroke="#00f" stroke-width="3.50"/>
<rect x="145.30" y="485.80" width="12.60" height="12.60" fill="#008000"/>
<line x1="151.6" x2="151.6" y1="509.8" y2="537.2" stroke="#f00" stroke-width="3.50"/>
<circle cx="151.6" cy="523.4" r="6.20" fill="#f00"/>
<path d="M147.3,509.6 h8.6 M147.3,537.4 h8.6" stroke="#f00" stroke-width="0.6" opacity="0.4" fill="none"/>
</svg></body></html>
